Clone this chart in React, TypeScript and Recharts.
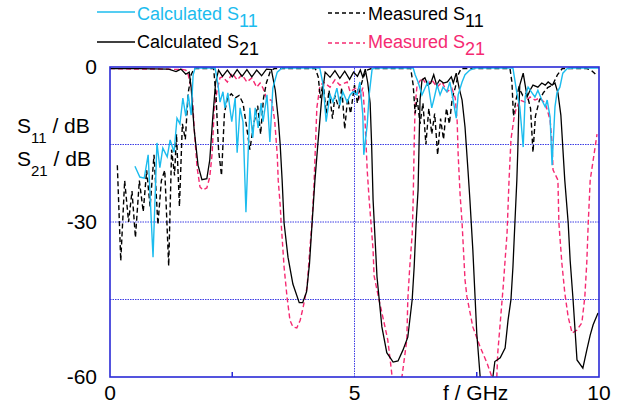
import React from 'react';
import { LineChart, Line, XAxis, YAxis, ReferenceLine } from 'recharts';

// frequency axis ticks (GHz) and dB ticks
const freqTicks = [0, 5, 10];
const dbTicks = [0, -30, -60];
const gridDb = [-15, -30, -45];
const gridFreq = [5];

// Calculated S11
const calcS11Freq = [0.51, 0.61, 0.7, 0.78, 0.88, 0.96, 1.02, 1.08, 1.17, 1.23, 1.31, 1.37, 1.43, 1.49, 1.55, 1.6, 1.66, 1.7, 1.74, 2.15, 2.21, 2.25, 2.31, 2.35, 2.41, 2.49, 2.56, 2.6, 2.66, 2.72, 2.78, 2.86, 2.92, 2.97, 3.03, 3.09, 3.13, 3.21, 3.27, 3.33, 3.42, 3.52, 4.29, 4.36, 4.42, 4.5, 4.56, 4.64, 4.7, 4.76, 4.85, 4.91, 4.97, 5.05, 5.11, 5.17, 5.19, 5.26, 5.3, 5.36, 5.42, 6.2, 6.24, 6.3, 6.38, 6.44, 6.5, 6.58, 6.63, 6.69, 6.75, 6.81, 6.89, 6.95, 7.01, 7.08, 7.12, 7.2, 7.26, 7.36, 7.46, 8.24, 8.32, 8.38, 8.45, 8.49, 8.55, 8.63, 8.69, 8.75, 8.83, 8.9, 8.94, 9.0, 9.04, 9.1, 9.14, 9.2, 9.26, 9.35, 9.47, 10];
const calcS11Db = [-19.2, -21.3, -21.5, -17, -36.8, -14.7, -19.5, -15.7, -17.4, -14.1, -16.5, -9.9, -11, -6, -9.5, -5.4, -9.3, -1.5, -0.2, -0.2, -3.5, -6.8, -4.8, -7.9, -5, -10.6, -6, -16.6, -7.9, -10.6, -28.1, -7.9, -13.7, -7.9, -11.8, -7, -10.6, -5.4, -14.5, -4.1, -1, -0.2, -0.2, -3.5, -10.6, -5.4, -6.8, -4.1, -7.4, -4.8, -6.8, -5.4, -4.8, -5.4, -2.9, -9.3, -17, -11.2, -5.4, -0.4, -0.2, -0.2, -1.5, -2.9, -5.4, -4.1, -2.9, -7.9, -6, -3.5, -5.4, -3.9, -4.8, -2.9, -6, -9.9, -5.4, -2.9, -1.5, -0.6, -0.2, -0.2, -5, -7.7, -15.5, -5.8, -3.9, -5, -5.8, -4.5, -6.4, -7.7, -6.4, -9.7, -19, -7.7, -5, -3.9, -1.2, -0.3, -0.2, -0.2];

// Calculated S21
const calcS21Freq = [0, 0.6, 1.2, 1.35, 1.45, 1.55, 1.62, 1.66, 1.72, 1.8, 1.88, 1.98, 2.04, 2.1, 2.16, 2.22, 2.3, 2.4, 2.5, 2.6, 2.7, 2.8, 2.9, 3.0, 3.1, 3.2, 3.3, 3.38, 3.44, 3.48, 3.52, 3.56, 3.64, 3.74, 3.87, 3.94, 4.02, 4.08, 4.13, 4.19, 4.25, 4.33, 4.4, 4.5, 4.6, 4.7, 4.8, 4.9, 4.98, 5.06, 5.12, 5.17, 5.22, 5.27, 5.32, 5.35, 5.38, 5.46, 5.56, 5.66, 5.79, 5.89, 5.99, 6.09, 6.18, 6.22, 6.26, 6.3, 6.32, 6.34, 6.38, 6.44, 6.5, 6.56, 6.62, 6.68, 6.74, 6.82, 6.9, 6.98, 7.02, 7.08, 7.14, 7.2, 7.26, 7.32, 7.36, 7.42, 7.5, 7.57, 7.62, 7.78, 7.83, 7.87, 7.98, 8.08, 8.14, 8.2, 8.24, 8.28, 8.32, 8.34, 8.36, 8.38, 8.45, 8.53, 8.59, 8.65, 8.75, 8.83, 8.9, 8.96, 9.04, 9.1, 9.16, 9.22, 9.3, 9.37, 9.41, 9.47, 9.55, 9.67, 9.75, 9.82, 9.88, 9.98];
const calcS21Db = [-0.3, -0.3, -0.4, -0.9, -0.4, -1.4, -1, -4, -12, -19, -21.8, -21.6, -18, -10, -3, -0.6, -1.8, -0.6, -1.9, -0.5, -1.8, -0.5, -1.9, -0.6, -1.7, -0.4, -0.5, -4.5, -10, -15, -21.9, -30.2, -36.8, -42, -45.6, -45.6, -43.5, -38, -30.6, -22, -15, -6, -1, -2, -0.7, -2.2, -0.8, -2.4, -1, -1.8, -0.6, -2, -0.4, -3, -7, -15, -25.7, -40.6, -50.3, -55.3, -57.1, -56.9, -54.8, -52.3, -45, -38.7, -30.2, -23.8, -15, -6.4, -2.5, -2.1, -3.5, -3.1, -1.5, -3.5, -2.5, -3.1, -2.9, -1.9, -3.1, -1.2, -4.1, -6.4, -11.6, -19.9, -25.7, -35.4, -51.5, -60, -66, -66, -60, -57, -56.3, -54.4, -49, -45, -38.7, -30.2, -21.9, -16, -8.3, -3.5, -1.2, -5.8, -4.5, -3.5, -3.9, -3.1, -3.5, -2.9, -3.5, -3.1, -5, -9.3, -21.9, -30.2, -37.4, -45.1, -56.7, -58.3, -54.8, -51.9, -49.9, -47.6];

// Measured S11
const measS11Freq = [0.15, 0.22, 0.3, 0.38, 0.45, 0.52, 0.6, 0.68, 0.75, 0.82, 0.9, 0.98, 1.05, 1.12, 1.2, 1.26, 1.32, 1.36, 1.42, 1.48, 1.54, 1.6, 1.66, 1.72, 2.12, 2.17, 2.22, 2.28, 2.34, 2.4, 2.48, 2.56, 2.64, 2.72, 2.8, 2.86, 2.94, 3.02, 3.08, 3.14, 3.2, 3.28, 3.36, 3.42, 4.2, 4.26, 4.3, 4.36, 4.42, 4.48, 4.55, 4.6, 4.68, 4.74, 4.8, 4.86, 4.92, 5.0, 5.06, 5.12, 5.18, 5.25, 5.35, 6.15, 6.2, 6.24, 6.28, 6.34, 6.4, 6.46, 6.52, 6.58, 6.64, 6.7, 6.76, 6.82, 6.88, 6.94, 7.0, 7.06, 7.12, 7.18, 8.18, 8.22, 8.25, 8.3, 8.36, 8.44, 8.52, 8.6, 8.65, 8.7, 8.78, 8.86, 8.95, 9.05, 9.15, 9.25, 9.75, 9.85, 9.95];
const measS11Db = [-19, -37.5, -22, -30, -24, -33, -22, -28, -20, -27, -17, -30.5, -22, -20, -38.5, -16, -21, -13, -27, -11, -14, -5, -1.5, -0.3, -0.3, -6, -16, -21, -9, -6, -5.2, -6, -5.5, -7, -12, -16, -11, -7.5, -13, -6, -3, -0.8, -0.3, -0.3, -0.3, -2, -6, -3, -9, -4.5, -10, -5.5, -8, -4, -12, -6, -9, -3.5, -7, -4, -2, -0.6, -0.3, -0.3, -3.5, -9, -6, -11, -7, -15, -8, -13, -9, -17, -10, -14, -8, -11, -6, -4, -1.5, -0.3, -0.3, -3, -9.5, -6.5, -4, -5.5, -5, -8, -16.5, -9.5, -6.5, -5, -4, -3.5, -1.5, -0.3, -0.3, -0.7, -1.6];

// Measured S21
const measS21Freq = [0, 0.5, 1.0, 1.5, 1.55, 1.6, 1.68, 1.72, 1.78, 1.84, 1.9, 1.98, 2.04, 2.09, 2.13, 2.19, 2.25, 2.3, 2.4, 2.5, 2.6, 2.7, 2.8, 2.9, 3.0, 3.07, 3.13, 3.2, 3.31, 3.37, 3.42, 3.44, 3.48, 3.5, 3.56, 3.62, 3.68, 3.74, 3.82, 3.89, 3.95, 4.03, 4.09, 4.13, 4.17, 4.23, 4.29, 4.36, 4.5, 4.6, 4.7, 4.85, 4.91, 5.05, 5.11, 5.17, 5.21, 5.26, 5.3, 5.38, 5.4, 5.5, 5.58, 5.68, 5.73, 5.77, 5.87, 5.97, 6.07, 6.09, 6.13, 6.18, 6.2, 6.22, 6.24, 6.28, 6.38, 6.48, 6.58, 6.69, 6.79, 6.89, 6.99, 7.06, 7.1, 7.12, 7.16, 7.2, 7.26, 7.3, 7.42, 7.57, 7.71, 7.81, 7.87, 7.91, 7.93, 8.04, 8.12, 8.16, 8.2, 8.26, 8.3, 8.38, 8.49, 8.59, 8.69, 8.79, 8.9, 8.96, 9.0, 9.04, 9.06, 9.16, 9.18, 9.24, 9.3, 9.37, 9.45, 9.55, 9.65, 9.71, 9.75, 9.78, 9.82, 9.96];
const measS21Db = [-0.3, -0.4, -0.4, -0.5, -0.6, -1.5, -5, -11.6, -19.4, -23.2, -23.8, -23.4, -21.3, -16.6, -8.3, -4.5, -2.1, -1.9, -2.9, -1.2, -2.5, -1.5, -2.9, -2.1, -3.9, -3.1, -4.1, -6, -6.5, -10.6, -17, -21.9, -26.7, -30.2, -38.7, -44.5, -49, -50.3, -50.5, -49, -46.5, -42.6, -34.8, -30.2, -23.2, -7.9, -3.9, -2.9, -3.9, -2.5, -3.5, -2.9, -4.8, -3.9, -6, -4, -9.3, -20, -25.7, -35.4, -40.4, -45, -48.4, -52.8, -56.7, -60, -64, -60, -52.8, -45, -38.7, -32.3, -25.7, -15.1, -7.4, -3.5, -2.1, -3.5, -2.5, -3.9, -2.9, -4.8, -4.1, -6, -10.6, -17, -24.8, -30.2, -41.2, -44.5, -50.3, -54.2, -57.3, -60, -62.5, -60, -55.3, -42.6, -32.1, -22, -14, -10, -8.3, -6.4, -6.8, -5.8, -6.4, -6, -7, -8.9, -10.3, -14.7, -19.9, -21.9, -30.2, -37.9, -43.7, -48.4, -51.5, -50.9, -49.5, -44.5, -37.9, -30.2, -21.9, -13];

const toPoints = (freq: number[], db: number[]) => freq.map((f, i) => ({ f, db: db[i] }));

const calcS11 = toPoints(calcS11Freq, calcS11Db);
const calcS21 = toPoints(calcS21Freq, calcS21Db);
const measS11 = toPoints(measS11Freq, measS11Db);
const measS21 = toPoints(measS21Freq, measS21Db);

const FONT = '"Liberation Sans", Arial, Helvetica, sans-serif';
const BLUE = '#2a2ad6';
const GRID = '#3c3ce4';
const CYAN = '#1cbcee';
const PINK = '#f52a72';

const tickStyle = { fontSize: 21, fill: '#000', fontFamily: FONT };

export default function App() {
  return (
    <div style={{ position: 'absolute', left: 0, top: 0, width: 632, height: 409, background: '#fff', fontFamily: FONT }}>
      <div style={{ position: 'absolute', left: 0, top: 0 }}>
        <LineChart width={632} height={409} margin={{ top: 67, right: 33, bottom: 0, left: 0 }}>
          <XAxis
            dataKey="f"
            type="number"
            domain={[0, 10]}
            ticks={freqTicks}
            allowDataOverflow
            height={32}
            axisLine={false}
            tickLine={false}
            tickSize={0}
            tickMargin={8}
            tick={tickStyle}
          />
          <YAxis
            yAxisId="left"
            type="number"
            domain={[-60, 0]}
            ticks={dbTicks}
            allowDataOverflow
            width={110}
            axisLine={false}
            tickLine={false}
            tickSize={0}
            tickMargin={13}
            tick={tickStyle}
          />
          {gridDb.map((v) => (
            <ReferenceLine key={`gy${v}`} yAxisId="left" y={v} stroke={GRID} strokeWidth={1} strokeDasharray="1.5 1" />
          ))}
          {gridFreq.map((v) => (
            <ReferenceLine key={`gx${v}`} yAxisId="left" x={v} stroke={GRID} strokeWidth={1} strokeDasharray="1.5 1" />
          ))}
          <Line yAxisId="left" data={measS21} dataKey="db" stroke={PINK} strokeWidth={1.4} strokeDasharray="5 3" dot={false} isAnimationActive={false} />
          <Line yAxisId="left" data={measS11} dataKey="db" stroke="#000" strokeWidth={1.4} strokeDasharray="5 3" dot={false} isAnimationActive={false} />
          <Line yAxisId="left" data={calcS21} dataKey="db" stroke="#000" strokeWidth={1.3} dot={false} isAnimationActive={false} />
          <Line yAxisId="left" data={calcS11} dataKey="db" stroke={CYAN} strokeWidth={1.4} dot={false} isAnimationActive={false} />
        </LineChart>
      </div>
      {/* frame, legend and axis titles drawn over the chart */}
      <svg width={632} height={409} style={{ position: 'absolute', left: 0, top: 0, pointerEvents: 'none' }} fontFamily={FONT}>
        <rect x={110} y={67} width={489} height={310} fill="none" stroke={BLUE} strokeWidth={1.6} />
        <line x1={232.25} y1={372} x2={232.25} y2={377} stroke={BLUE} strokeWidth={1.5} />
        <line x1={476.75} y1={372} x2={476.75} y2={377} stroke={BLUE} strokeWidth={1.5} />
        <line x1={97} y1={12} x2={135} y2={12} stroke={CYAN} strokeWidth={1.5} />
        <text x={137} y={20} fontSize={18} fill={CYAN}>
          Calculated S<tspan dy={7}>11</tspan>
        </text>
        <line x1={97} y1={42} x2={135} y2={42} stroke="#000" strokeWidth={1.5} />
        <text x={137} y={48} fontSize={18} fill="#000">
          Calculated S<tspan dy={7}>21</tspan>
        </text>
        <line x1={328} y1={13} x2={365} y2={13} stroke="#000" strokeWidth={1.3} strokeDasharray="4 3" />
        <text x={368} y={20} fontSize={18} fill="#000">
          Measured S<tspan dy={7}>11</tspan>
        </text>
        <line x1={328} y1={43} x2={365} y2={43} stroke={PINK} strokeWidth={1.3} strokeDasharray="4 3" />
        <text x={368} y={48} fontSize={18} fill={PINK}>
          Measured S<tspan dy={7}>21</tspan>
        </text>
        <text x={17} y={133} fontSize={21} fill="#000">
          S<tspan dy={10} fontSize={15}>11</tspan><tspan dy={-10}> / dB</tspan>
        </text>
        <text x={17} y={166} fontSize={21} fill="#000">
          S<tspan dy={10} fontSize={15}>21</tspan><tspan dy={-10}> / dB</tspan>
        </text>
        <text x={443} y={400} fontSize={21} fill="#000">f / GHz</text>
      </svg>
    </div>
  );
}
